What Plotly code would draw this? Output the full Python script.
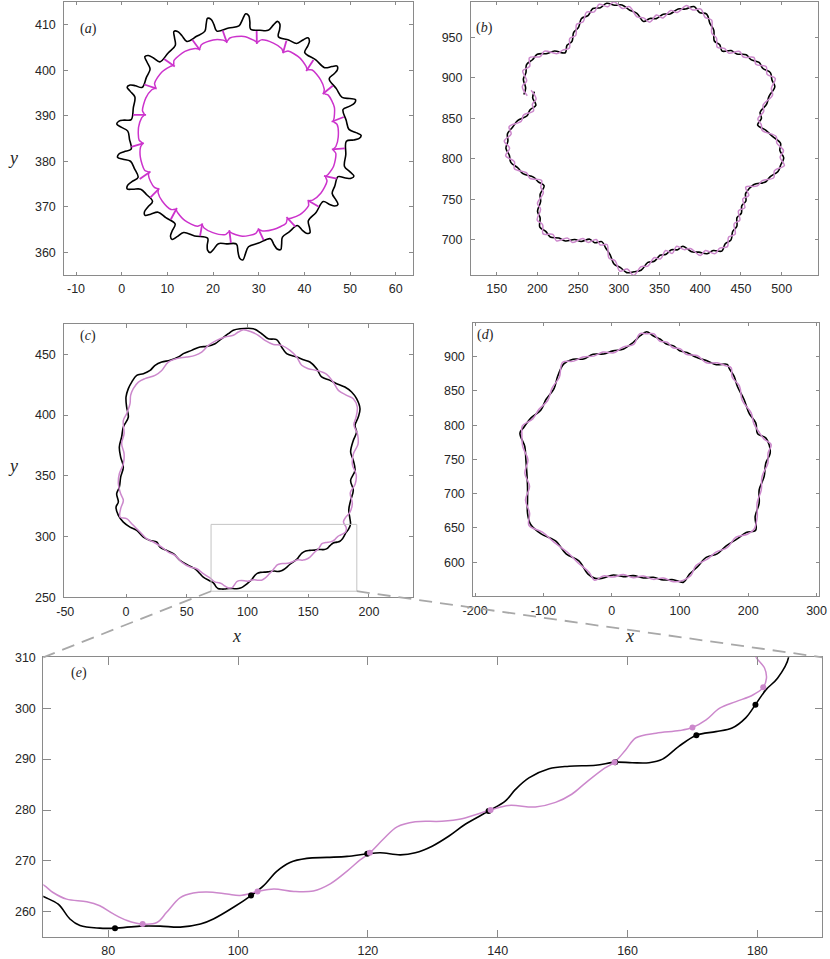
import math
import plotly.graph_objects as go

W, H = 830, 959

# ---------------- data ----------------
# (a) outer black interface, polar samples (deg, radius) about the drop centre
A_CENTER = (25.5, 385.5)
a_black_theta = [177.3,175.5,174.2,172.7,171.9,171.1,164.6,
                 159.1,157.3,156.0,154.5,153.7,152.9,147.2,
                 142.5,140.7,139.4,137.9,137.1,136.3,129.9,
                 124.5,122.7,121.4,119.9,119.1,118.3,112.5,
                 107.6,105.8,104.5,103.0,102.2,101.4,95.0,
                 89.6,87.8,86.5,85.0,84.2,83.4,78.4,
                 74.3,72.5,71.2,69.7,68.9,68.1,62.5,
                 57.9,56.1,54.8,53.3,52.5,51.7,44.7,
                 38.6,36.8,35.5,34.0,33.2,32.4,26.0,
                 20.6,18.8,17.5,16.0,15.2,14.4,8.5,
                 3.6,1.8,0.5,-1.0,-1.8,-2.6,-9.8,
                 -15.9,-17.7,-19.0,-20.5,-21.3,-22.1,-27.3,
                 -31.4,-33.2,-34.5,-36.0,-36.8,-37.6,-44.5,
                 -50.4,-52.2,-53.5,-55.0,-55.8,-56.6,-62.0,
                 -66.4,-68.2,-69.5,-71.0,-71.8,-72.6,-79.2,
                 -84.7,-86.5,-87.8,-89.3,-90.1,-90.9,-96.2,
                 -100.4,-102.2,-103.5,-105.0,-105.8,-106.6,-113.5,
                 -119.4,-121.2,-122.5,-124.0,-124.8,-125.6,-131.5,
                 -136.4,-138.2,-139.5,-141.0,-141.8,-142.6,-147.5,
                 -151.4,-153.2,-154.5,-156.0,-156.8,-157.6,-162.8,
                 -166.9,-168.7,-170.0,-171.5,-172.3,-173.1,-178.4,
                 -182.7]
a_black_r = [24.2,25.7,26.7,26.3,25.2,23.7,23.8,
             24.2,25.6,26.6,26.2,25.1,23.6,23.9,
             24.3,25.8,26.9,26.5,25.3,23.7,23.9,
             24.3,25.8,27.0,26.6,25.3,23.7,23.8,
             24.2,25.7,26.8,26.4,25.2,23.6,23.9,
             24.3,25.8,27.0,26.6,25.3,23.7,23.8,
             24.2,25.7,26.7,26.3,25.2,23.6,23.9,
             24.1,25.6,26.5,26.1,25.0,23.5,23.9,
             24.2,25.6,26.6,26.2,25.1,23.6,23.9,
             24.3,25.8,26.9,26.5,25.3,23.7,23.9,
             24.3,25.8,26.9,26.5,25.3,23.7,23.9,
             24.2,25.7,26.8,26.4,25.2,23.6,23.8,
             24.1,25.6,26.5,26.1,25.0,23.5,23.9,
             24.1,25.5,26.4,26.0,25.0,23.5,23.8,
             24.2,25.6,26.6,26.2,25.1,23.6,23.9,
             24.4,25.9,27.2,26.8,25.4,23.7,23.8,
             24.0,25.4,26.3,25.9,24.9,23.4,23.9,
             24.3,25.8,26.9,26.5,25.3,23.7,23.9,
             24.2,25.7,26.8,26.4,25.2,23.6,23.8,
             24.3,25.8,26.9,26.5,25.3,23.7,23.8,
             24.2,25.7,26.8,26.4,25.2,23.6,23.8,
             24.2]
# (a) inner magenta interface
a_mag_theta = [166.9,164.9,157.3,151.6, 149.5,147.5,139.9,134.2, 132.1,130.1,122.0,116.0,
               113.8,111.8,104.5,98.8, 96.8,94.8,86.8,80.8, 78.6,76.6,69.4,63.8,
               61.8,59.8,52.0,46.1, 44.0,42.0,34.5,28.8, 26.7,24.7,16.9,11.0,
               8.9,6.9,-0.4,-6.0, -8.0,-10.0,-17.3,-22.9, -24.9,-26.9,-34.7,-40.7,
               -42.8,-44.8,-51.9,-57.3, -59.3,-61.3,-69.5,-75.6, -77.8,-79.8,-87.5,-93.3,
               -95.4,-97.4,-104.7,-110.3, -112.3,-114.3,-122.3,-128.2, -130.4,-132.4,-139.3,-144.6,
               -146.5,-148.5,-152.8,-156.6, -158.0,-160.0,-167.8,-173.7, -175.8,-177.8,-185.3,-191.0,
               -193.1]
a_mag_r = [21.1,21.7,21.9,21.5, 21.0,21.7,21.9,21.4, 21.1,21.8,22.0,21.5,
           21.0,21.7,21.9,21.4, 21.0,21.7,22.0,21.4, 21.1,21.8,21.9,21.5,
           21.0,21.7,21.9,21.4, 21.1,21.8,21.9,21.5, 21.0,21.7,22.0,21.4,
           21.1,21.8,21.9,21.5, 21.0,21.7,21.9,21.4, 21.1,21.8,22.0,21.5,
           21.0,21.7,21.9,21.4, 21.1,21.8,21.9,21.5, 21.0,21.7,22.0,21.4,
           21.1,21.8,21.9,21.5, 21.0,21.7,21.9,21.4, 21.1,21.8,21.9,21.5,
           21.0,21.5,21.6,21.4, 21.1,21.8,21.9,21.5, 21.0,21.7,21.9,21.5,
           21.1]
# (a) short normal marks on the magenta interface
a_tick_theta = [166.9,149.5,132.1,113.8,96.8,78.6,61.8,44.0,26.7,8.9,-8.0,-24.9,
                -42.8,-59.3,-77.8,-95.4,-112.3,-130.4,-146.5,-158.0,-175.8]
A_TICK_R_IN, A_TICK_R_OUT = 20.7, 23.5

# (b) polar samples about the centre
B_CENTER = (333.0, 825.0)
b_theta = [160,157,154,151,148,145,142,139,136,133,130,127,124,121,118,115,112,109,106,103,
           100,97,94,91,88,85,82,79,76,73,70,67,64,61,58,55,52,49,46,43,40,37,34,31,28,25,
           22,19,16,13,10,7,4,1,-2,-5,-8,-11,-14,-17,-20,-23,-26,-29,-32,-35,-38,-41,-44,-47,
           -50,-53,-56,-59,-62,-65,-68,-71,-74,-77,-80,-83,-86,-89,-92,-95,-98,-101,-104,-107,
           -110,-113,-116,-119,-122,-125,-128,-131,-134,-137,-140,-143,-146,-149,-152,-155,
           -158,-161,-164,-167,-170,-173,-176,-179,-182,-185,-188,-191,-194,-197,-200,-203]
b_black_r = [159.2,160.1,167.1,168.1,172.5,169.7,168.9,160.1,155.5,144.8,
             150.3,150.3,158.1,160.1,167.9,167.5,173.1,170.8,173.7,168.9,
             167.4,159.5,155.0,144.5,148.3,148.6,154.9,156.6,164.9,167.1,
             173.4,169.1,170.9,162.6,157.8,147.0,147.4,143.1,151.1,153.1,
             161.1,161.9,168.0,168.0,173.4,171.1,171.0,160.2,154.5,144.2,
             144.3,138.5,148.1,155.7,165.7,165.4,171.2,169.0,167.5,160.0,
             156.5,144.5,141.2,140.2,145.1,144.1,149.1,148.6,155.6,156.6,
             163.0,162.3,167.3,161.0,160.7,154.5,150.6,140.3,142.6,140.7,
             144.7,145.0,151.7,152.7,162.5,164.9,166.9,162.0,159.7,149.6,
             143.5,138.0,142.9,141.8,149.6,151.9,160.2,162.5,168.7,167.7,
             169.7,162.3,160.2,150.5,146.8,137.6,142.3,145.8,156.9,160.9,
             168.2,168.7,172.0,169.2,169.8,163.9,158.8,148.3,146.5,141.0,
             147.7,148.4]
b_pink_r = [154.7,164.6,162.6,172.6,168.0,174.2,164.4,164.6,151.0,149.3,
            145.8,154.8,153.6,164.6,163.4,172.0,168.6,175.3,169.2,173.4,
            162.9,164.0,150.5,149.0,143.8,153.1,150.4,161.1,160.4,171.6,
            168.9,173.6,166.4,167.1,153.3,151.5,142.9,147.6,146.6,157.6,
            156.6,166.4,163.5,172.5,168.9,175.6,166.5,164.7,150.0,148.7,
            139.8,143.0,143.6,160.2,161.2,169.9,166.7,173.5,163.0,164.5,
            152.0,149.0,136.7,144.7,140.6,148.6,144.6,153.1,151.1,161.1,
            158.5,166.8,162.8,165.5,156.2,159.0,146.1,144.8,138.1,145.2,
            140.2,149.5,147.2,157.2,158.0,169.4,162.4,166.5,155.2,154.1,
            139.0,142.5,138.4,146.3,145.1,156.4,155.7,167.0,164.2,172.2,
            165.2,166.8,155.7,155.0,142.3,142.1,137.8,150.3,152.4,165.4,
            163.7,173.2,167.5,173.7,165.3,168.4,154.3,152.8,142.0,145.5,
            143.2,152.9]

# (c) and its zoom (e): (x, y) points
c_black = [(93.8,471.0),(104.8,471.0),(111.7,466.9),(117.1,462.8),(124.0,462.0),(128.1,456.0),
           (132.2,450.5),(140.5,447.7),(146.0,445.5),(151.4,443.6),(157.0,438.1),(161.0,431.3),
           (167.9,428.5),(173.4,425.8),(180.2,423.0),(185.7,418.9),(189.8,413.4),(192.6,405.2),
           (191.2,398.3),(188.5,391.5),(189.8,386.0),(187.1,379.1),(184.9,369.5),(187.1,362.7),
           (188.5,354.4),(184.9,346.2),(187.1,338.0),(184.9,329.8),(183.4,322.0),(184.2,315.5),
           (184.8,310.0),(183.1,305.9),(181.3,303.6),(179.7,300.7),(178.2,298.1),(176.1,296.1),
           (173.6,295.4),(170.6,294.7),(167.9,292.5),(165.4,290.0),(163.3,289.3),(160.7,289.3),
           (158.1,289.4),(155.1,288.8),(151.0,288.6),(147.9,288.1),(144.8,286.3),(142.7,284.0),
           (141.2,281.8),(138.6,279.8),(135.0,277.2),(132.5,274.9),(129.9,272.9),(127.3,271.6),
           (125.0,271.2),(121.9,271.6),(119.9,271.4),(116.8,270.9),(113.7,270.7),(110.6,270.5),
           (108.0,269.7),(106.0,268.0),(103.9,265.1),(102.0,263.2),(99.3,260.9),(96.2,258.6),
           (94.2,257.6),(91.1,257.0),(88.0,257.2),(84.9,257.2),(81.05,256.8),(78.7,256.8),
           (75.65,257.3),(74.1,258.6),(72.3,261.5),(70.0,263.0),
           (63.6,266.6),(60.9,269.4),(56.8,273.5),(51.3,276.3),(44.4,280.4),(39.0,285.9),
           (33.5,288.6),(28.0,291.3),(25.2,295.5),(19.8,296.8),(14.3,299.6),(8.8,305.1),
           (3.3,307.8),(-2.2,311.9),(-6.3,317.4),(-8.2,324.3),(-6.3,328.4),(-7.7,335.2),
           (-5.5,340.7),(-4.4,348.9),(-2.2,357.2),(-4.4,365.4),(-5.5,373.6),(-3.6,381.9),
           (-2.2,390.1),(1.9,398.3),(0.5,406.6),(0.0,414.8),(1.9,421.7),(4.7,427.1),
           (8.8,432.6),(14.3,434.0),(19.8,436.7),(23.9,440.9),(29.4,443.6),(36.2,445.0),
           (43.1,447.7),(47.2,450.5),(54.0,453.2),(60.9,456.0),(66.4,456.5),(73.3,458.7),
           (78.7,462.8),(84.2,466.9),(88.3,469.7),(93.8,471.0)]
c_pink = [(96.6,470.2),(103.4,468.3),(108.9,465.6),(114.4,461.4),(121.3,458.1),(128.1,457.3),
          (135.0,453.2),(140.5,447.7),(144.6,440.9),(150.1,438.1),(157.0,436.7),(165.2,433.5),
          (170.6,427.1),(174.8,420.3),(181.6,416.2),(187.1,413.4),(190.4,406.6),(189.3,398.0),
          (187.6,392.0),(190.6,384.0),(191.0,376.0),(187.2,368.0),(186.4,359.0),(189.5,351.0),
          (188.6,343.0),(184.6,336.0),(186.3,327.0),(184.0,319.5),(180.8,315.8),(179.0,312.3),
          (179.8,310.0),(181.1,307.9),(181.4,305.9),(180.9,304.1),(179.3,302.6),(176.7,301.3),
          (174.2,300.0),(172.1,297.7),(170.0,296.2),(168.0,295.6),(164.4,295.1),(161.3,294.2),
          (159.7,291.8),(158.0,289.4),(156.1,287.9),(153.5,285.3),(151.4,283.1),(148.9,281.5),
          (145.8,280.6),(141.7,280.9),(138.9,280.0),(134.5,278.3),(131.4,277.8),(127.3,277.7),
          (124.5,276.7),(122.4,274.3),(120.3,271.6),(118.8,270.2),(116.8,268.0),(114.2,265.5),
          (111.6,264.1),(108.6,264.0),(105.5,264.5),(103.0,264.0),(100.3,263.2),(98.3,263.5),
          (95.2,263.9),(93.1,263.7),(91.1,262.8),(89.0,259.9),(87.5,257.9),(85.3,257.6),
          (82.9,258.3),(80.8,259.6),(78.7,261.2),(76.7,262.0),(73.6,262.5),(71.5,263.8),
          (70.0,265.3),
          (63.6,269.4),(58.2,273.5),(52.7,274.9),(45.8,279.0),(40.3,284.5),(34.8,287.2),
          (29.4,291.3),(22.5,295.5),(17.0,298.2),(12.9,302.3),(8.8,306.4),(4.7,310.6),
          (0.5,314.7),(-4.9,316.0),(-4.4,322.9),(-2.2,329.8),(-4.4,335.2),(-6.3,343.5),
          (-5.5,351.7),(-2.2,359.9),(-1.6,368.2),(-3.6,376.4),(-1.6,384.6),(-2.2,395.6),
          (0.5,401.1),(3.3,409.3),(3.8,416.2),(6.0,421.7),(10.2,427.1),(15.6,429.9),
          (23.9,432.6),(29.4,436.7),(34.8,443.6),(41.7,446.4),(49.9,447.7),(56.8,449.1),
          (62.3,451.8),(67.8,457.3),(74.6,461.4),(81.5,464.2),(88.3,465.6),(92.5,468.3),
          (96.6,470.2)]

# (d)
d_black = [(51.2,936.3),(60.55,930.6),(71.25,925.5),(80.05,918.5),(90.75,915.8),(99.55,908.7),
           (110.25,906.1),(123.95,899.0),(139.55,893.9),(153.25,888.3),(169.15,888.7),(172.25,882.5),
           (179.15,871.5),(184.45,855.7),(193.85,837.5),(201.45,816.8),(210.95,803.4),(213.65,787.6),
           (225.55,781.5),(230.7,771.0),(232.0,758.9),(225.7,744.7),(223.2,724.8),(216.0,705.7),
           (215.9,685.9),(210.1,666.8),(210.8,646.6),(197.0,643.3),(183.7,634.0),(167.7,623.9),
           (154.4,612.1),(138.4,606.9),(125.1,592.7),(114.0,582.5),(105.2,570.7),(90.3,574.4),
           (75.6,574.0),(61.0,577.9),(46.4,576.9),(31.7,580.3),(17.1,578.9),(2.4,581.3),
           (-12.2,576.9),(-24.0,576.3),(-35.0,583.0),(-48.0,601.9),(-66.7,612.2),(-82.2,631.1),
           (-103.3,641.4),(-118.6,655.0),(-123.2,671.4),(-123.2,691.0),(-123.2,710.3),(-124.2,730.0),
           (-125.6,749.2),(-127.2,768.9),(-134.3,788.4),(-128.3,797.4),(-118.1,810.7),(-103.9,821.7),
           (-96.2,837.5),(-84.4,853.3),(-79.1,871.5),(-70.1,889.5),(-56.5,896.3),(-41.1,896.6),
           (-27.2,903.6),(-11.8,903.9),(2.0,908.5),(17.5,911.2),(31.3,920.7),(41.9,930.6),
           (51.2,936.3)]
d_pink = [(51.2,933.3),(61.67,933.4),(70.13,922.7),(81.17,921.3),(89.63,913.0),(100.67,911.5),
          (109.13,903.3),(125.07,901.8),(138.43,891.1),(154.37,891.1),(167.3,886.6),(174.9,884.0),
          (176.5,870.0),(187.1,857.2),(191.2,836.0),(204.1,818.3),(208.3,801.9),(216.3,789.1),
          (222.9,780.0),(233.5,771.5),(229.0,759.4),(228.7,744.2),(220.2,725.3),(219.0,705.2),
          (212.9,686.4),(213.1,666.3),(208.5,648.1),(198.7,640.8),(182.0,636.5),(169.4,621.4),
          (152.7,614.6),(140.1,604.4),(123.4,595.2),(115.7,580.0),(104.4,573.4),(90.3,571.4),
          (75.6,577.0),(61.0,574.9),(46.4,579.9),(31.7,577.3),(17.1,581.9),(2.4,578.3),
          (-12.2,579.9),(-25.0,573.6),(-33.1,585.3),(-49.9,599.6),(-64.8,614.5),(-84.1,628.8),
          (-101.4,643.7),(-121.1,653.7),(-120.2,671.7),(-126.2,690.7),(-120.2,710.6),(-127.2,729.7),
          (-122.6,749.5),(-130.2,768.6),(-131.5,787.8),(-130.8,798.9),(-115.6,809.2),(-106.4,823.2),
          (-93.7,836.0),(-86.9,854.8),(-76.6,870.0),(-71.9,891.7),(-55.5,893.5),(-42.1,899.4),
          (-26.2,900.8),(-12.8,906.7),(3.0,905.7),(16.5,914.0),(32.3,917.9),(40.9,933.4),
          (51.2,933.3)]

# (e) marked points
e_black_dots_x = [81.05, 102.0, 119.9, 138.6, 158.1, 170.6, 179.7]
e_black_dots_y = [256.8, 263.2, 271.4, 279.8, 289.4, 294.7, 300.7]
e_pink_dots_x = [85.3, 103.0, 120.3, 138.9, 158.0, 170.0, 180.9]
e_pink_dots_y = [257.6, 264.0, 271.6, 280.0, 289.4, 296.2, 304.1]

# zoom window shown in (e)
E_XR = [70, 190]
E_YR = [255, 310]

# tick values
a_xt = [-10, 0, 10, 20, 30, 40, 50, 60]; a_yt = [360, 370, 380, 390, 400, 410]
b_xt = [150, 200, 250, 300, 350, 400, 450, 500]; b_yt = [700, 750, 800, 850, 900, 950]
c_xt = [-50, 0, 50, 100, 150, 200]; c_yt = [250, 300, 350, 400, 450]
d_xt = [-200, -100, 0, 100, 200, 300]; d_yt = [550, 600, 650, 700, 750, 800, 850, 900, 950]
e_xt = [80, 100, 120, 140, 160, 180]; e_yt = [260, 270, 280, 290, 300, 310]

# ---------------- styles ----------------
BLACK = "#000000"
PINK = "#CC88CC"
MAGENTA = "#CC33CC"
FRAME = "#8a8a8a"
TXT = "#262626"
SANS = "Liberation Sans, Arial, Helvetica, sans-serif"
SERIF = "Liberation Serif, Times New Roman, serif"


def polar(center, theta, r):
    cx, cy = center
    xs = [cx + ri * math.cos(math.radians(t)) for t, ri in zip(theta, r)]
    ys = [cy + ri * math.sin(math.radians(t)) for t, ri in zip(theta, r)]
    return xs, ys


def unzip(pts):
    return [p[0] for p in pts], [p[1] for p in pts]


# panel geometry in pixels
P = {
    "a": dict(ax="", xd=(64.3, 412.7), yd=(1.7, 275.0), xr=(-12.56, 63.7), yr=(355.0, 415.1),
              xt=a_xt, yt=a_yt, tl=3.5, xs=2, ys=5),
    "b": dict(ax="2", xd=(471.0, 818.0), yd=(1.7, 275.0), xr=(118.5, 544.6), yr=(656.8, 993.9),
              xt=b_xt, yt=b_yt, tl=3.5, xs=2, ys=5),
    "c": dict(ax="3", xd=(64.3, 412.7), yd=(324.0, 597.3), xr=(-50.8, 236.0), yr=(250.0, 474.9),
              xt=c_xt, yt=c_yt, tl=3.5, xs=3, ys=5),
    "d": dict(ax="4", xd=(473.3, 819.3), yd=(322.7, 596.0), xr=(-202.6, 304.0), yr=(550.6, 949.6),
              xt=d_xt, yt=d_yt, tl=3.5, xs=3, ys=5),
    "e": dict(ax="5", xd=(43.3, 822.3), yd=(657.3, 937.3), xr=tuple(E_XR), yr=tuple(E_YR),
              xt=e_xt, yt=e_yt, tl=7.5, xs=2, ys=4),
}

fig = go.Figure()


def add_line(panel, xs, ys, color, width, smooth=1.0):
    ax = P[panel]["ax"]
    fig.add_trace(go.Scatter(x=xs, y=ys, mode="lines", xaxis="x" + ax, yaxis="y" + ax,
                             line=dict(color=color, width=width, shape="spline", smoothing=smooth),
                             hoverinfo="skip", showlegend=False))


# (a)
ax_, ay_ = polar(A_CENTER, a_black_theta, a_black_r)
add_line("a", ax_, ay_, BLACK, 1.6, 1.0)
mx_, my_ = polar(A_CENTER, a_mag_theta, a_mag_r)
add_line("a", mx_, my_, MAGENTA, 1.5, 0.8)
tx, ty = [], []
for t in a_tick_theta:
    x0, y0 = polar(A_CENTER, [t], [A_TICK_R_IN])
    x1, y1 = polar(A_CENTER, [t + 1.5], [A_TICK_R_OUT])
    tx += [x0[0], x1[0], None]
    ty += [y0[0], y1[0], None]
fig.add_trace(go.Scatter(x=tx, y=ty, mode="lines", xaxis="x", yaxis="y",
                         line=dict(color=MAGENTA, width=1.8), hoverinfo="skip", showlegend=False))

# (b)
bx, by = polar(B_CENTER, b_theta, b_black_r)
add_line("b", bx, by, BLACK, 1.6)
px_, py_ = polar(B_CENTER, b_theta, b_pink_r)
add_line("b", px_, py_, PINK, 1.5)

# (c) and (e)
cbx, cby = unzip(c_black)
cpx, cpy = unzip(c_pink)
for pn in ("c", "e"):
    add_line(pn, cbx, cby, BLACK, 1.6)
    add_line(pn, cpx, cpy, PINK, 1.5)
fig.add_trace(go.Scatter(x=e_black_dots_x, y=e_black_dots_y, mode="markers", xaxis="x5", yaxis="y5",
                         marker=dict(color=BLACK, size=6), hoverinfo="skip", showlegend=False))
fig.add_trace(go.Scatter(x=e_pink_dots_x, y=e_pink_dots_y, mode="markers", xaxis="x5", yaxis="y5",
                         marker=dict(color=PINK, size=6), hoverinfo="skip", showlegend=False))

# (d)
dbx, dby = unzip(d_black)
dpx, dpy = unzip(d_pink)
add_line("d", dbx, dby, BLACK, 1.6)
add_line("d", dpx, dpy, PINK, 1.5)

# ---------------- axes ----------------
layout = dict(template="none", width=W, height=H, margin=dict(l=0, r=0, t=0, b=0, pad=0),
              paper_bgcolor="white", plot_bgcolor="white", showlegend=False)
for key, p in P.items():
    common = dict(showline=True, linecolor=FRAME, linewidth=1, mirror="ticks", ticks="inside",
                  ticklen=p["tl"], tickcolor=FRAME, tickwidth=1, showgrid=False, zeroline=False,
                  automargin=False,
                  tickfont=dict(family=SANS, size=12.5, color=TXT), tickmode="array", fixedrange=True)
    layout["xaxis" + p["ax"]] = dict(common, domain=[p["xd"][0] / W, p["xd"][1] / W],
                                     range=list(p["xr"]), tickvals=p["xt"],
                                     ticktext=[str(v) for v in p["xt"]],
                                     anchor="y" + p["ax"], ticklabelstandoff=p["xs"])
    layout["yaxis" + p["ax"]] = dict(common, domain=[1 - p["yd"][1] / H, 1 - p["yd"][0] / H],
                                     range=list(p["yr"]), tickvals=p["yt"],
                                     ticktext=[str(v) for v in p["yt"]],
                                     anchor="x" + p["ax"], ticklabelstandoff=p["ys"])
fig.update_layout(**layout)


def to_paper(panel, x, y):
    p = P[panel]
    px = p["xd"][0] + (x - p["xr"][0]) / (p["xr"][1] - p["xr"][0]) * (p["xd"][1] - p["xd"][0])
    py = p["yd"][1] - (y - p["yr"][0]) / (p["yr"][1] - p["yr"][0]) * (p["yd"][1] - p["yd"][0])
    return px / W, 1 - py / H


shapes = [dict(type="rect", xref="x3", yref="y3", x0=E_XR[0], x1=E_XR[1], y0=E_YR[0], y1=E_YR[1],
               line=dict(color="#c4c4c4", width=1), layer="above")]
for xc in E_XR:
    sx, sy = to_paper("c", xc, E_YR[0])
    ex, ey = to_paper("e", xc, E_YR[1])
    shapes.append(dict(type="line", xref="paper", yref="paper", x0=sx, y0=sy, x1=ex, y1=ey,
                       line=dict(color="#a8a8a8", width=1.8, dash="13px,8px"), layer="above"))
fig.update_layout(shapes=shapes)

ann = []
for lab, (cx, cy) in {"a": (78, 19), "b": (484, 18), "c": (78, 336), "d": (485, 335), "e": (69, 683)}.items():
    ann.append(dict(text="(<i>%s</i>)" % lab, x=cx / W, y=1 - cy / H, xref="paper", yref="paper",
                    showarrow=False, font=dict(family=SERIF, size=14, color=TXT)))
for txt, cx, cy in (("y", 6, 146), ("y", 6, 466), ("x", 230, 636), ("x", 636, 636)):
    ann.append(dict(text="<i>%s</i>" % txt, x=cx / W, y=1 - cy / H, xref="paper", yref="paper",
                    showarrow=False, font=dict(family=SERIF, size=18, color=TXT)))
fig.update_layout(annotations=ann)

fig.write_html("out.html", config={"displayModeBar": False},
               post_script="document.body.style.margin='0px';document.body.style.padding='0px';")
